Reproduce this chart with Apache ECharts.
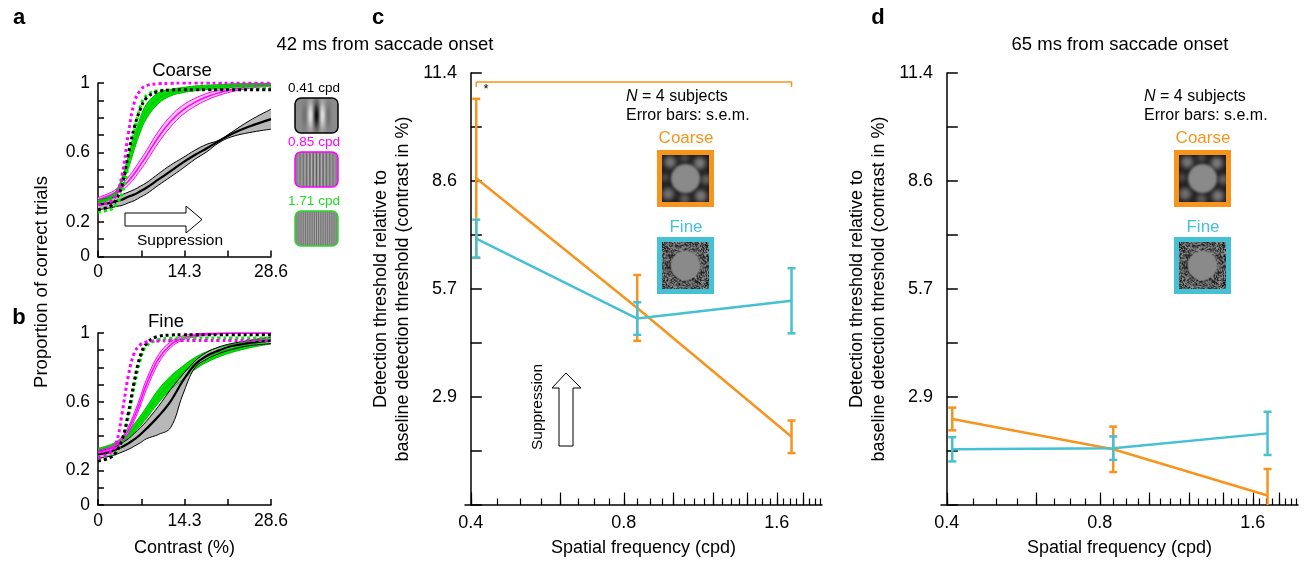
<!DOCTYPE html>
<html><head><meta charset="utf-8">
<script src="https://cdn.jsdelivr.net/npm/echarts@6.0.0/dist/echarts.min.js"></script>
<style>html,body{margin:0;padding:0;background:#fff}#chart{width:1306px;height:562px}</style>
</head><body><div id="chart"></div>
<script>
// ------------------------- DATA -------------------------
// Panels a/b: contrast grid (%) at which curves were read
const CONTRAST = [0, 2, 3, 4, 5, 6, 7, 8, 10, 12, 14, 16, 18, 20, 22, 25, 28.6];

// Panel a (Coarse) - proportion correct
const A_BLACK_MID = [0.299, 0.309, 0.319, 0.328, 0.344, 0.357, 0.376, 0.396, 0.444, 0.492, 0.541, 0.585, 0.624, 0.666, 0.705, 0.749, 0.792];
const A_BLACK_UP  = [0.328, 0.338, 0.346, 0.357, 0.371, 0.386, 0.405, 0.425, 0.477, 0.527, 0.569, 0.612, 0.647, 0.670, 0.714, 0.782, 0.849];
const A_BLACK_LO  = [0.270, 0.280, 0.288, 0.295, 0.309, 0.322, 0.342, 0.361, 0.411, 0.459, 0.508, 0.560, 0.604, 0.656, 0.689, 0.714, 0.734];
const A_MAG_MID   = [0.328, 0.353, 0.373, 0.400, 0.434, 0.477, 0.527, 0.579, 0.689, 0.778, 0.844, 0.888, 0.921, 0.944, 0.961, 0.979, 0.990];
const A_MAG_UP    = [0.340, 0.367, 0.388, 0.419, 0.457, 0.504, 0.556, 0.610, 0.722, 0.809, 0.871, 0.911, 0.940, 0.959, 0.973, 0.989, 0.998];
const A_MAG_LO    = [0.316, 0.339, 0.358, 0.381, 0.411, 0.450, 0.498, 0.548, 0.656, 0.747, 0.817, 0.865, 0.902, 0.929, 0.949, 0.969, 0.982];
const A_GRN_MID   = [0.315, 0.338, 0.367, 0.444, 0.541, 0.656, 0.759, 0.836, 0.913, 0.944, 0.959, 0.969, 0.975, 0.979, 0.985, 0.990, 0.994];
const A_GRN_UP    = [0.323, 0.348, 0.379, 0.459, 0.576, 0.695, 0.801, 0.878, 0.944, 0.963, 0.974, 0.983, 0.987, 0.991, 0.995, 0.999, 1.000];
const A_GRN_LO    = [0.307, 0.328, 0.355, 0.429, 0.506, 0.617, 0.717, 0.794, 0.882, 0.925, 0.944, 0.955, 0.963, 0.967, 0.975, 0.980, 0.986];
const A_BLACK_DOT = [0.270, 0.290, 0.328, 0.415, 0.589, 0.743, 0.849, 0.913, 0.952, 0.959, 0.961, 0.961, 0.961, 0.961, 0.961, 0.961, 0.961];
const A_GRN_DOT   = [0.257, 0.270, 0.299, 0.367, 0.521, 0.714, 0.863, 0.927, 0.956, 0.959, 0.961, 0.963, 0.965, 0.967, 0.969, 0.971, 0.973];
const A_MAG_DOT   = [0.299, 0.315, 0.357, 0.473, 0.705, 0.888, 0.959, 0.985, 0.996, 0.998, 1.000, 1.000, 1.000, 1.000, 1.000, 1.000, 1.000];

// Panel b (Fine) - proportion correct
const B_BLACK_MID = [0.294, 0.309, 0.323, 0.338, 0.358, 0.381, 0.410, 0.443, 0.516, 0.603, 0.720, 0.816, 0.868, 0.899, 0.923, 0.942, 0.957];
const B_BLACK_UP  = [0.313, 0.329, 0.342, 0.362, 0.385, 0.416, 0.449, 0.487, 0.574, 0.671, 0.758, 0.836, 0.888, 0.919, 0.938, 0.957, 0.977];
const B_BLACK_LO  = [0.271, 0.284, 0.294, 0.308, 0.323, 0.342, 0.362, 0.385, 0.410, 0.450, 0.640, 0.797, 0.849, 0.880, 0.903, 0.926, 0.938];
const B_GRN_MID   = [0.319, 0.338, 0.354, 0.377, 0.408, 0.447, 0.489, 0.536, 0.633, 0.710, 0.768, 0.822, 0.861, 0.888, 0.909, 0.932, 0.952];
const B_GRN_UP    = [0.329, 0.350, 0.368, 0.394, 0.429, 0.472, 0.518, 0.569, 0.672, 0.749, 0.807, 0.857, 0.892, 0.915, 0.932, 0.951, 0.967];
const B_GRN_LO    = [0.309, 0.326, 0.340, 0.360, 0.387, 0.422, 0.460, 0.503, 0.594, 0.671, 0.729, 0.787, 0.830, 0.861, 0.886, 0.913, 0.937];
const B_MAG_MID   = [0.308, 0.327, 0.346, 0.381, 0.435, 0.513, 0.603, 0.700, 0.849, 0.932, 0.971, 0.986, 0.994, 0.998, 1.000, 1.000, 1.000];
const B_MAG_UP    = [0.316, 0.337, 0.358, 0.396, 0.454, 0.536, 0.630, 0.729, 0.874, 0.949, 0.983, 0.994, 1.000, 1.000, 1.000, 1.000, 1.000];
const B_MAG_LO    = [0.300, 0.317, 0.334, 0.366, 0.416, 0.490, 0.576, 0.671, 0.824, 0.915, 0.959, 0.978, 0.988, 0.994, 0.998, 0.998, 0.998];
const B_BLACK_DOT = [0.255, 0.275, 0.308, 0.381, 0.532, 0.720, 0.868, 0.938, 0.981, 0.988, 0.990, 0.990, 0.990, 0.990, 0.990, 0.990, 0.990];
const B_GRN_DOT   = [0.265, 0.280, 0.308, 0.371, 0.507, 0.691, 0.845, 0.923, 0.961, 0.969, 0.971, 0.971, 0.971, 0.971, 0.971, 0.971, 0.971];
const B_MAG_DOT   = [0.275, 0.304, 0.358, 0.536, 0.749, 0.884, 0.932, 0.948, 0.954, 0.956, 0.956, 0.956, 0.956, 0.956, 0.956, 0.956, 0.956];

// Panels c/d: spatial frequency (cpd) and thresholds (contrast %)
const SF = [0.41, 0.85, 1.71];
const COARSE_42 = [8.62, 5.20, 1.80];
const COARSE_42_SEM = [2.10, 0.87, 0.43];
const FINE_42 = [7.03, 4.92, 5.39];
const FINE_42_SEM = [0.50, 0.43, 0.86];
const COARSE_65 = [2.27, 1.47, 0.25];
const COARSE_65_SEM = [0.30, 0.60, 0.70];
const FINE_65 = [1.47, 1.50, 1.89];
const FINE_65_SEM = [0.32, 0.31, 0.57];
const BRACKET_LEVELS = [11.03, 11.16];   // significance bracket (c): end-drop level, bar level

// Tick labels
const PROP_TICK_VALUES = [0, 0.2, 0.6, 1];
const PROP_TICK_LABELS = ['0', '0.2', '0.6', '1'];
const CON_TICK_VALUES = [0, 14.3, 28.6];
const CON_TICK_LABELS = ['0', '14.3', '28.6'];
const THR_TICK_VALUES = [2.85, 5.7, 8.55, 11.4];
const THR_TICK_LABELS = ['2.9', '5.7', '8.6', '11.4'];
const SF_TICK_VALUES = [0.4, 0.8, 1.6];
const SF_TICK_LABELS = ['0.4', '0.8', '1.6'];
const SF_MAJOR_TICKS = [0.4, 0.6, 0.8, 1.0, 1.2, 1.4, 1.6, 1.8];
const SF_MINOR_TICKS = [];
for (let k = 8; k <= 39; k++) SF_MINOR_TICKS.push(k * 0.05);

// ------------------------- HELPERS -------------------------
const FONT = '"Liberation Sans", Arial, Helvetica, sans-serif';
const ORANGE = '#F7941D', CYAN = '#45C1D3', MAGENTA = '#FF00FF';
const oct = f => Math.log2(f / 0.4);          // log2 frequency scale
const XMIN = -0.038, XMAX = 2.295;
const pairs = (xs, ys) => xs.map((x, i) => [x, ys[i]]);
const lookup = (vals, labs) => v => { const i = vals.findIndex(t => Math.abs(t - v) < 1e-6); return i < 0 ? '' : labs[i]; };

function makeCanvas(w, h) { const c = document.createElement('canvas'); c.width = w; c.height = h; return c; }
function hash(i, j) { const s = Math.sin(i * 12.9898 + j * 78.233) * 43758.5453; return s - Math.floor(s); }
function noiseTexture(n) {
  const c = makeCanvas(n, n), ctx = c.getContext('2d'); const img = ctx.createImageData(n, n);
  for (let j = 0; j < n; j++) for (let i = 0; i < n; i++) {
    const v = Math.round(10 + hash(i, j) * 150); const k = (j * n + i) * 4;
    img.data[k] = img.data[k + 1] = img.data[k + 2] = v; img.data[k + 3] = 255;
  }
  ctx.putImageData(img, 0, 0);
  ctx.fillStyle = '#8a8a8a'; ctx.beginPath(); ctx.arc(n / 2, n / 2, n * 0.31, 0, Math.PI * 2); ctx.fill();
  return c;
}
function blobTexture(n) {
  const c = makeCanvas(n, n), ctx = c.getContext('2d');
  ctx.fillStyle = '#1c1c1c'; ctx.fillRect(0, 0, n, n);
  ctx.filter = 'blur(2.5px)';
  const blobs = [[8, 7, 6, '#7a7a7a'], [22, 3, 4, '#5a5a5a'], [37, 8, 6, '#808080'], [43, 24, 5, '#6a6a6a'],
                 [38, 40, 6, '#7c7c7c'], [22, 43, 5, '#646464'], [6, 38, 6, '#747474'], [3, 22, 4, '#585858']];
  blobs.forEach(b => { ctx.fillStyle = b[3]; ctx.beginPath(); ctx.arc(b[0], b[1], b[2], 0, Math.PI * 2); ctx.fill(); });
  ctx.filter = 'blur(1px)';
  ctx.fillStyle = '#8a8a8a'; ctx.beginPath(); ctx.arc(n / 2, n / 2, n * 0.31, 0, Math.PI * 2); ctx.fill();
  ctx.filter = 'none';
  return c;
}
function gratingTexture(w, h, period, sx, sy, amp, phase) {
  const c = makeCanvas(w, h), ctx = c.getContext('2d'); const img = ctx.createImageData(w, h);
  for (let j = 0; j < h; j++) for (let i = 0; i < w; i++) {
    const dx = i - w / 2 + 0.5, dy = j - h / 2 + 0.5;
    const env = Math.exp(-(dx * dx / (2 * sx * sx) + dy * dy / (2 * sy * sy)));
    const v = Math.max(0, Math.min(255, Math.round(138 - amp * Math.cos(2 * Math.PI * dx / period + phase) * env)));
    const k = (j * w + i) * 4; img.data[k] = img.data[k + 1] = img.data[k + 2] = v; img.data[k + 3] = 255;
  }
  ctx.putImageData(img, 0, 0);
  const out = makeCanvas(w, h), o = out.getContext('2d');
  o.beginPath(); o.roundRect(0, 0, w, h, 6); o.clip(); o.drawImage(c, 0, 0);
  return out;
}

// ------------------------- AXES -------------------------
const axisLine = { show: true, lineStyle: { color: '#000', width: 1.5 } };
const lab = { color: '#000', fontSize: 18, fontFamily: FONT };
const labS = { color: '#000', fontSize: 17.5, fontFamily: FONT };

const grids = [
  { left: 98, top: 83, width: 173, height: 173.5 },   // a
  { left: 98, top: 333, width: 173, height: 172 },    // b
  { left: 465, top: 73, width: 357, height: 432 },    // c
  { left: 941, top: 73, width: 357, height: 432 }     // d
].map(g => Object.assign({ containLabel: false, outerBoundsMode: 'none' }, g));

function contrastAxis(gi, name) {
  return { type: 'value', gridIndex: gi, min: 0, max: 28.6, interval: 7.15, axisLine,
    axisTick: { inside: true, length: 6, lineStyle: { color: '#000', width: 1.5 } },
    axisLabel: Object.assign({ margin: 7, formatter: lookup(CON_TICK_VALUES, CON_TICK_LABELS) }, labS),
    splitLine: { show: false },
    name: name || '', nameLocation: 'middle', nameGap: 34, nameTextStyle: lab };
}
function propAxis(gi) {
  return { type: 'value', gridIndex: gi, min: 0, max: 1, interval: 0.1, axisLine,
    axisTick: { inside: true, length: 6, lineStyle: { color: '#000', width: 1.5 } },
    axisLabel: Object.assign({ margin: 8, formatter: lookup(PROP_TICK_VALUES, PROP_TICK_LABELS) }, labS),
    splitLine: { show: false } };
}
function sfAxisMain(gi) {
  return { type: 'value', gridIndex: gi, position: 'bottom', min: XMIN, max: XMAX, axisLine,
    axisTick: { inside: true, length: 6.5, customValues: SF_MINOR_TICKS.map(oct), lineStyle: { color: '#000', width: 1.2 } },
    axisLabel: Object.assign({ margin: 9, customValues: SF_TICK_VALUES.map(oct),
      formatter: lookup(SF_TICK_VALUES.map(oct), SF_TICK_LABELS) }, lab),
    splitLine: { show: false },
    name: 'Spatial frequency (cpd)', nameLocation: 'middle', nameGap: 34, nameTextStyle: lab };
}
function sfAxisMajor(gi) {
  return { type: 'value', gridIndex: gi, position: 'bottom', offset: 0, min: XMIN, max: XMAX,
    axisLine: { show: false },
    axisTick: { show: true, inside: true, length: 12.5, customValues: SF_MAJOR_TICKS.map(oct), lineStyle: { color: '#000', width: 1.2 } },
    axisLabel: { show: false }, splitLine: { show: false } };
}
function thrAxis(gi) {
  return { type: 'value', gridIndex: gi, min: 0, max: 11.4, interval: 1.425, axisLine,
    axisTick: { inside: true, length: 11, lineStyle: { color: '#000', width: 1.5 } },
    axisLabel: Object.assign({ margin: 8, formatter: lookup(THR_TICK_VALUES, THR_TICK_LABELS) }, lab),
    splitLine: { show: false },
    name: 'Detection threshold relative to\nbaseline detection threshold (contrast in %)',
    nameLocation: 'middle', nameGap: 51, nameTextStyle: Object.assign({ lineHeight: 22 }, lab) };
}

const xAxis = [contrastAxis(0), contrastAxis(1, 'Contrast (%)'), sfAxisMain(2), sfAxisMajor(2), sfAxisMain(3), sfAxisMajor(3)];
const yAxis = [propAxis(0), propAxis(1), thrAxis(2), thrAxis(3)];

// ------------------------- SERIES -------------------------
const series = [];
const SM = 0.4;
function addLine(xi, yi, data, color, width, type) {
  series.push({ type: 'line', xAxisIndex: xi, yAxisIndex: yi, data, smooth: SM, symbol: 'none', silent: true,
    lineStyle: { color, width, type: type || 'solid', cap: 'butt' } });
}
// bands: filled between lower and upper curve via a y-stack (value dim first so it is the stacked one)
function addBand(gi, key, lo, up, mid, fill, edge, midColor, midW) {
  const stack = 'band' + gi + key;
  series.push({ type: 'line', xAxisIndex: gi, yAxisIndex: gi, stack, encode: { x: 1, y: 0 },
    data: CONTRAST.map((c, i) => [lo[i], c]), smooth: SM,
    symbol: 'none', silent: true, lineStyle: { width: 0, opacity: 0 } });
  series.push({ type: 'line', xAxisIndex: gi, yAxisIndex: gi, stack, encode: { x: 1, y: 0 },
    data: CONTRAST.map((c, i) => [up[i] - lo[i], c]),
    smooth: SM, symbol: 'none', silent: true, lineStyle: { width: 0, opacity: 0 }, areaStyle: { color: fill, opacity: 1 } });
  addLine(gi, gi, pairs(CONTRAST, up), edge, 1);
  addLine(gi, gi, pairs(CONTRAST, lo), edge, 1);
  addLine(gi, gi, pairs(CONTRAST, mid), midColor, midW);
}
const DOT = [3, 3];
// panel a
addBand(0, 'k', A_BLACK_LO, A_BLACK_UP, A_BLACK_MID, '#b8b8b8', '#000', '#000', 2.2);
addBand(0, 'm', A_MAG_LO, A_MAG_UP, A_MAG_MID, '#f7c4f0', MAGENTA, MAGENTA, 1.5);
addBand(0, 'g', A_GRN_LO, A_GRN_UP, A_GRN_MID, '#00e000', '#00b800', '#00c800', 1.5);
addLine(0, 0, pairs(CONTRAST, A_GRN_DOT), '#00ee00', 3, DOT);
addLine(0, 0, pairs(CONTRAST, A_BLACK_DOT), '#000', 3, DOT);
addLine(0, 0, pairs(CONTRAST, A_MAG_DOT), MAGENTA, 3, DOT);
// panel b
addBand(1, 'g', B_GRN_LO, B_GRN_UP, B_GRN_MID, '#00e000', '#00b800', '#00c800', 1.5);
addBand(1, 'k', B_BLACK_LO, B_BLACK_UP, B_BLACK_MID, '#b8b8b8', '#000', '#000', 2.2);
addBand(1, 'm', B_MAG_LO, B_MAG_UP, B_MAG_MID, '#f7c4f0', MAGENTA, MAGENTA, 1.5);
addLine(1, 1, pairs(CONTRAST, B_GRN_DOT), '#00ee00', 3, DOT);
addLine(1, 1, pairs(CONTRAST, B_BLACK_DOT), '#000', 3, DOT);
addLine(1, 1, pairs(CONTRAST, B_MAG_DOT), MAGENTA, 3, DOT);

function addThreshold(xi, yi, means, sems, color) {
  series.push({ type: 'line', xAxisIndex: xi, yAxisIndex: yi, data: SF.map((f, i) => [oct(f), means[i]]),
    symbol: 'none', silent: true, lineStyle: { color, width: 2.5 }, z: 3 });
  series.push({ type: 'custom', xAxisIndex: xi, yAxisIndex: yi, clip: true, silent: true, z: 4,
    data: SF.map((f, i) => [oct(f), means[i] - sems[i], means[i] + sems[i]]),
    encode: { x: 0, y: [1, 2] },
    renderItem(params, api) {
      const x = api.value(0); const lo = api.coord([x, api.value(1)]); const hi = api.coord([x, api.value(2)]);
      const w = 4, st = { stroke: color, lineWidth: 2.5 };
      return { type: 'group', children: [
        { type: 'line', shape: { x1: lo[0], y1: lo[1], x2: hi[0], y2: hi[1] }, style: st },
        { type: 'line', shape: { x1: lo[0] - w, y1: lo[1], x2: lo[0] + w, y2: lo[1] }, style: st },
        { type: 'line', shape: { x1: hi[0] - w, y1: hi[1], x2: hi[0] + w, y2: hi[1] }, style: st }
      ] };
    } });
}
addThreshold(2, 2, COARSE_42, COARSE_42_SEM, ORANGE);
addThreshold(2, 2, FINE_42, FINE_42_SEM, CYAN);
addThreshold(4, 3, COARSE_65, COARSE_65_SEM, ORANGE);
addThreshold(4, 3, FINE_65, FINE_65_SEM, CYAN);
// significance bracket (panel c)
series.push({ type: 'line', xAxisIndex: 2, yAxisIndex: 2, symbol: 'none', silent: true, z: 3,
  lineStyle: { color: ORANGE, width: 1.5 },
  data: [[oct(SF[0]), BRACKET_LEVELS[0]], [oct(SF[0]), BRACKET_LEVELS[1]], [oct(SF[2]), BRACKET_LEVELS[1]], [oct(SF[2]), BRACKET_LEVELS[0]]] });

// ------------------------- GRAPHICS -------------------------
const T = (x, y, text, opts) => ({ type: 'text', x, y, silent: true, rotation: (opts && opts.rotation) || 0,
  style: Object.assign({ text, fill: '#000', fontSize: 18, fontFamily: FONT, align: 'center', verticalAlign: 'middle' }, opts && opts.style) });
const graphic = [];
[['a', 19, 18], ['b', 19, 318], ['c', 378, 18], ['d', 878, 18]].forEach(p =>
  graphic.push(T(p[1], p[2], p[0], { style: { fontSize: 22, fontWeight: 'bold' } })));
graphic.push(T(385, 45, '42 ms from saccade onset', { style: { fontSize: 18.5 } }));
graphic.push(T(1120, 45, '65 ms from saccade onset', { style: { fontSize: 18.5 } }));
graphic.push(T(182, 71, 'Coarse', { style: { fontSize: 18.5 } }));
graphic.push(T(166, 322, 'Fine', { style: { fontSize: 18.5 } }));
graphic.push(T(42, 282, 'Proportion of correct trials', { rotation: Math.PI / 2, style: { fontSize: 18.5 } }));

// thumbnails (panel a)
const thumbs = [
  { label: '0.41 cpd', color: '#000', y: 98, tex: gratingTexture(43, 35, 13, 7, 9, 125, 0) },
  { label: '0.85 cpd', color: MAGENTA, y: 152, tex: gratingTexture(43, 35, 3.3, 11, 30, 45, 0) },
  { label: '1.71 cpd', color: '#22dd22', y: 211, tex: gratingTexture(43, 35, 2.2, 11, 30, 30, 0) }
];
thumbs.forEach(t => {
  graphic.push(T(314, t.y - 10, t.label, { style: { fill: t.color, fontSize: 13.5 } }));
  graphic.push({ type: 'image', silent: true, style: { image: t.tex, x: 295, y: t.y, width: 43, height: 35 } });
  graphic.push({ type: 'rect', silent: true, shape: { x: 295, y: t.y, width: 43, height: 35, r: 6 },
    style: { fill: null, stroke: t.color, lineWidth: 1.5 } });
});

// suppression arrows
graphic.push({ type: 'polygon', silent: true,
  shape: { points: [[125, 213], [186, 213], [186, 206], [202, 219.5], [186, 233], [186, 226], [125, 226]] },
  style: { fill: '#fff', stroke: '#000', lineWidth: 1 } });
graphic.push(T(180, 241, 'Suppression', { style: { fontSize: 15.5 } }));
graphic.push({ type: 'polygon', silent: true,
  shape: { points: [[559, 446], [573, 446], [573, 388], [581, 388], [566, 373], [552, 388], [559, 388]] },
  style: { fill: '#fff', stroke: '#000', lineWidth: 1 } });
graphic.push(T(538, 407, 'Suppression', { rotation: Math.PI / 2, style: { fontSize: 15.5 } }));
graphic.push(T(486, 89, '*', { style: { fontSize: 13 } }));

// legends c/d
const coarseTex = blobTexture(46), fineTex = noiseTexture(46);
[[626, 657], [1144, 1174]].forEach(([tx, bx]) => {
  graphic.push(T(tx, 97, '{i|N} = 4 subjects', { style: { align: 'left', fontSize: 16,
    rich: { i: { fontStyle: 'italic', fontSize: 16, fontFamily: FONT } } } }));
  graphic.push(T(tx, 116, 'Error bars: s.e.m.', { style: { align: 'left', fontSize: 16 } }));
  graphic.push(T(bx + 29, 138, 'Coarse', { style: { fill: ORANGE, fontSize: 17 } }));
  graphic.push({ type: 'image', silent: true, style: { image: coarseTex, x: bx + 5, y: 155, width: 47, height: 47 } });
  graphic.push({ type: 'rect', silent: true, shape: { x: bx + 2.5, y: 152.5, width: 52, height: 52 },
    style: { fill: null, stroke: ORANGE, lineWidth: 5 } });
  graphic.push(T(bx + 29, 227, 'Fine', { style: { fill: CYAN, fontSize: 17 } }));
  graphic.push({ type: 'image', silent: true, style: { image: fineTex, x: bx + 5, y: 242, width: 47, height: 47 } });
  graphic.push({ type: 'rect', silent: true, shape: { x: bx + 2.5, y: 239.5, width: 52, height: 52 },
    style: { fill: null, stroke: CYAN, lineWidth: 5 } });
});

// ------------------------- CHART -------------------------
const chart = echarts.init(document.getElementById('chart'), null, { renderer: 'canvas' });
chart.setOption({
  animation: false,
  backgroundColor: '#fff',
  textStyle: { fontFamily: FONT, color: '#000' },
  grid: grids, xAxis, yAxis, series, graphic
});
</script></body></html>
